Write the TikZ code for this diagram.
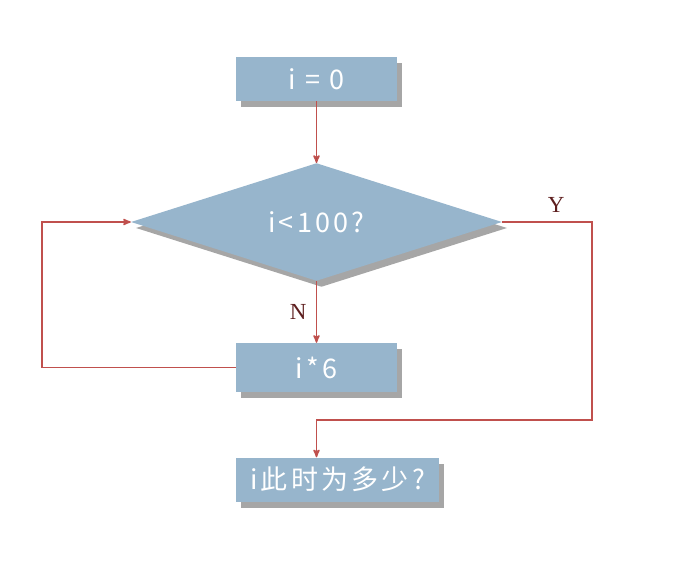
\documentclass[tikz,border=0pt]{standalone}
\usepackage{fontspec}
\newfontfamily\cjk[LetterSpace=12]{Noto Sans CJK SC}
\newfontfamily\labelfont{Liberation Serif}
\usetikzlibrary{arrows,shapes.geometric,shadows}
\definecolor{boxblue}{HTML}{97B5CC}
\definecolor{flowred}{HTML}{C0504D}
\definecolor{labelred}{HTML}{5E1F1F}

\begin{document}
\begin{tikzpicture}[x=1pt,y=-1pt,>=stealth',
  box shadow/.style={drop shadow={shadow xshift=5pt,shadow yshift=-6pt,
  fill=black,opacity=0.35}},
  proc node/.style={rectangle,fill=boxblue,box shadow,inner sep=0pt,
  text=white,font=\cjk\fontsize{27}{30}\selectfont},
  dec node/.style={diamond,fill=boxblue,box shadow,inner sep=0pt,
  text=white,font=\cjk\fontsize{27}{30}\selectfont},
  flow line/.style={->,draw=flowred,line width=1.6pt},
  yn label/.style={text=labelred,font=\labelfont\fontsize{23}{25}\selectfont}]

  \useasboundingbox (0,0) rectangle (686,564);

  \node[proc node,minimum width=161,minimum height=44] (init) at (316.5,79) {i = 0};
  \node[dec node,minimum width=371,minimum height=114] (test) at (316.5,222) {i<100?};
  \node[proc node,minimum width=161,minimum height=49] (mult) at (316.5,367.5) {i*6};
  \node[proc node,minimum width=203,minimum height=44] (result) at (337.5,479.5) {i此时为多少?};

  \coordinate (loopcorner) at (42,367.5);
  \coordinate (ycorner) at (592,420);
  \coordinate (yturn) at (316.5,420);

  \path[flow line]
    (init) edge (test)
    (test) edge node[yn label,left=6pt] {N} (mult);

  % loop back from i*6 into the test
  \draw[flow line] (mult.west) -- (loopcorner) |- (test.west);

  % Y branch out to the result
  \draw[flow line] (test.east) -- node[yn label,above=5pt,pos=0.6] {Y} (test.east -| ycorner)
    -- (ycorner) -- (yturn) -- (yturn |- result.north);
\end{tikzpicture}
\end{document}
